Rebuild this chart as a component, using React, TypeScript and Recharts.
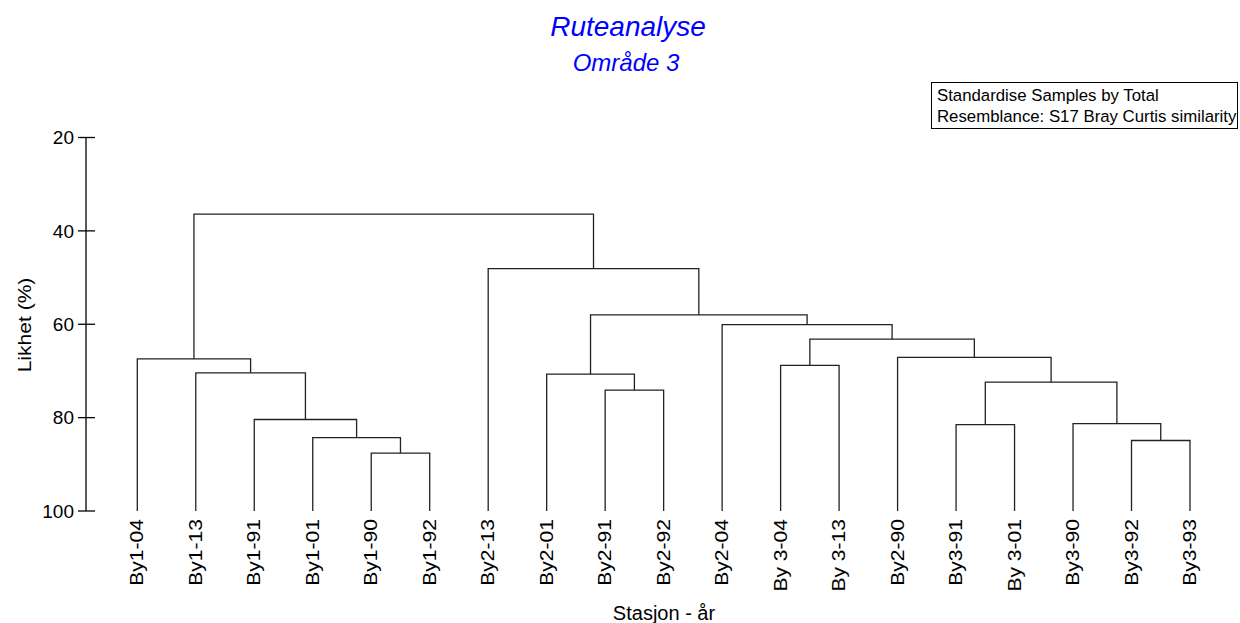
import { ComposedChart, Line, XAxis, YAxis } from "recharts";

const FONT = "'Liberation Sans', Arial, sans-serif";

const stations = [
  "By1-04", "By1-13", "By1-91", "By1-01", "By1-90", "By1-92",
  "By2-13", "By2-01", "By2-91", "By2-92", "By2-04",
  "By 3-04", "By 3-13", "By2-90", "By3-91", "By 3-01",
  "By3-90", "By3-92", "By3-93",
];

// Each merge joins two nodes: a station index, or 19 + index of an earlier merge.
const mergeLeft = [4, 3, 2, 1, 0, 8, 7, 17, 16, 14, 28, 13, 11, 31, 10, 25, 6, 23];
const mergeRight = [5, 19, 20, 21, 22, 9, 24, 18, 26, 15, 27, 29, 12, 30, 32, 33, 34, 35];
const mergeLevel = [87.6, 84.3, 80.4, 70.4, 67.4, 74.1, 70.7, 84.9, 81.3, 81.5, 72.4, 67.1, 68.8, 63.2, 60.1, 58.0, 48.1, 36.4];

const yTicks = [20, 40, 60, 80, 100];

// node positions: leaves sit at 100 % similarity, merges halfway between children
const nodeX: number[] = stations.map((_, i) => i);
const nodeY: number[] = stations.map(() => 100);
mergeLevel.forEach((level, k) => {
  nodeX.push((nodeX[mergeLeft[k]] + nodeX[mergeRight[k]]) / 2);
  nodeY.push(level);
});

const links = mergeLevel.map((level, k) => {
  const l = mergeLeft[k];
  const r = mergeRight[k];
  return [
    { x: nodeX[l], y: nodeY[l] },
    { x: nodeX[l], y: level },
    { x: nodeX[r], y: level },
    { x: nodeX[r], y: nodeY[r] },
  ];
});

function StationTick(props: any) {
  const { x, y, payload } = props;
  return (
    <text
      transform={`translate(${x + 6},${y + 8}) rotate(-90) scale(1.17,1)`}
      textAnchor="end"
      fontSize={18}
      fontFamily={FONT}
      fill="#000"
    >
      {stations[payload.value]}
    </text>
  );
}

function LevelTick(props: any) {
  const { x, y, payload } = props;
  return (
    <g>
      <line x1={x - 8} x2={x + 9} y1={y} y2={y} stroke="#000" strokeWidth={1.3} />
      <text x={x - 12} y={y} dy="0.36em" textAnchor="end" fontSize={19} fontFamily={FONT} fill="#000">
        {payload.value}
      </text>
    </g>
  );
}

export default function App() {
  return (
    <div style={{ position: "absolute", left: 0, top: 0, width: 1240, height: 623, background: "#fff" }}>
      <ComposedChart
        width={1240}
        height={623}
        margin={{ top: 137.5, right: 10, bottom: 32, left: 26 }}
      >
        <XAxis
          type="number"
          dataKey="x"
          domain={[-0.877, 18.684]}
          allowDataOverflow
          ticks={stations.map((_, i) => i)}
          interval={0}
          axisLine={false}
          tickLine={false}
          tickSize={0}
          tickMargin={0}
          height={80}
          tick={<StationTick />}
        />
        <YAxis
          type="number"
          domain={[20, 100]}
          reversed
          allowDataOverflow
          ticks={yTicks}
          interval={0}
          width={60}
          axisLine={{ stroke: "#000", strokeWidth: 1.3 }}
          tickLine={false}
          tickSize={0}
          tickMargin={0}
          tick={<LevelTick />}
        />
        {links.map((pts, k) => (
          <Line
            key={k}
            data={pts}
            dataKey="y"
            type="linear"
            stroke="#222"
            strokeWidth={1.3}
            dot={false}
            activeDot={false}
            isAnimationActive={false}
          />
        ))}
      </ComposedChart>
      <svg
        width={1240}
        height={623}
        style={{ position: "absolute", left: 0, top: 0, pointerEvents: "none" }}
        fontFamily={FONT}
      >
        <text x={628} y={36} textAnchor="middle" fontSize={28} fontStyle="italic" fill="#0000ff">
          Ruteanalyse
        </text>
        <text x={626} y={71} textAnchor="middle" fontSize={24} fontStyle="italic" fill="#0000ff">
          Område 3
        </text>
        <rect x={931.5} y={82.5} width={306} height={46} fill="#fff" stroke="#000" strokeWidth={1} />
        <text x={937} y={101} fontSize={16.8} fill="#000">
          Standardise Samples by Total
        </text>
        <text x={937} y={122} fontSize={16.8} fill="#000">
          Resemblance: S17 Bray Curtis similarity
        </text>
        <text
          transform="translate(31,325) rotate(-90) scale(1.17,1)"
          textAnchor="middle"
          fontSize={18}
          fill="#000"
        >
          Likhet (%)
        </text>
        <text x={664} y={620} textAnchor="middle" fontSize={20} fill="#000">
          Stasjon - år
        </text>
      </svg>
    </div>
  );
}
